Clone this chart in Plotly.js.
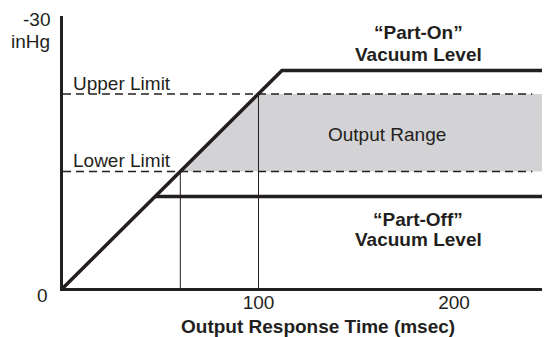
<!DOCTYPE html>
<html>
<head>
<meta charset="utf-8">
<script src="https://cdn.plot.ly/plotly-3.0.1.min.js"></script>
<style>
  html, body { margin: 0; padding: 0; background: #fff; }
  #plot { width: 545px; height: 337px; }
</style>
</head>
<body>
<div id="plot"></div>
<script>
// Vacuum level (inHg, shown as magnitude) against output response time (msec)
const rampTime = [0, 112, 245];
const partOnLevel = [0, 24, 24];

const partOffTime = [47, 245];
const partOffLevel = [10.1, 10.1];

const limitNames = ['Upper Limit', 'Lower Limit'];
const limitLevels = [21.4, 12.85];
const limitCrossTimes = [100, 60];   // where the ramp crosses each limit

const xEnd = 245;
const xTickVals = [100, 200];
const xTickText = ['100', '200'];

const INK = '#231f20';
const FONT = '"Liberation Sans", Arial, Helvetica, sans-serif';
const FS = 19;

const traces = [];

// shaded output range, bounded by the ramp and the two limits
traces.push({
  x: [limitCrossTimes[1], limitCrossTimes[0], xEnd, xEnd],
  y: [limitLevels[1], limitLevels[0], limitLevels[0], limitLevels[1]],
  type: 'scatter', mode: 'none',
  fill: 'toself', fillcolor: '#d3d3d5',
  hoverinfo: 'skip'
});

// dashed limit lines
limitLevels.forEach((lvl, i) => {
  traces.push({
    x: [0, xEnd - 5], y: [lvl, lvl],
    type: 'scatter', mode: 'lines',
    name: limitNames[i],
    line: { color: INK, width: 1.5, dash: '8px,5px' }
  });
});

// thin drop lines from the crossings
limitCrossTimes.forEach((t, i) => {
  traces.push({
    x: [t, t], y: [0, limitLevels[i]],
    type: 'scatter', mode: 'lines',
    line: { color: INK, width: 1 }
  });
});

// ramp + "Part-On" plateau
traces.push({
  x: rampTime, y: partOnLevel,
  type: 'scatter', mode: 'lines',
  line: { color: INK, width: 3.5 },
  cliponaxis: false
});

// "Part-Off" plateau
traces.push({
  x: partOffTime, y: partOffLevel,
  type: 'scatter', mode: 'lines',
  line: { color: INK, width: 3.5 },
  cliponaxis: false
});

const txt = (text, x, y, opts = {}) => Object.assign({
  text, x, y, xref: 'x', yref: 'y', showarrow: false,
  xanchor: 'center', yanchor: 'middle',
  font: { family: FONT, size: FS, color: INK }
}, opts);

const paper = { xref: 'paper', yref: 'paper' };

const annotations = [
  txt('Upper Limit', 4.2, 22.6, { xanchor: 'left' }),
  txt('Lower Limit', 4.2, 14.1, { xanchor: 'left' }),
  txt('Output Range', 165.7, 16.9),
  txt('<b>\u201CPart-On\u201D</b>', 181.6, 28.2),
  txt('<b>Vacuum Level</b>', 181.6, 25.7),
  txt('<b>\u201CPart-Off\u201D</b>', 181.6, 7.6),
  txt('<b>Vacuum Level</b>', 181.6, 5.4),
  txt('-30', -0.022, 0.987, Object.assign({ xanchor: 'right' }, paper)),
  txt('inHg', -0.022, 0.906, Object.assign({ xanchor: 'right' }, paper)),
  txt('0', -0.042, -0.029, paper),
  txt('<b>Output Response Time (msec)</b>', 0.532, -0.14, paper)
];

const layout = {
  width: 545, height: 337,
  margin: { l: 63, r: 3, t: 16, b: 49 },
  paper_bgcolor: '#fff', plot_bgcolor: '#fff',
  showlegend: false,
  xaxis: {
    range: [0, xEnd],
    showline: true, linecolor: INK, linewidth: 3,
    showgrid: false, zeroline: false,
    tickvals: xTickVals, ticktext: xTickText, ticks: '',
    ticklabelstandoff: -5,
    tickfont: { family: FONT, size: FS, color: INK }
  },
  yaxis: {
    range: [0, 30],
    showline: true, linecolor: INK, linewidth: 3,
    showgrid: false, zeroline: false,
    showticklabels: false, ticks: ''
  },
  annotations
};

Plotly.newPlot('plot', traces, layout, { displayModeBar: false, staticPlot: true });
</script>
</body>
</html>
